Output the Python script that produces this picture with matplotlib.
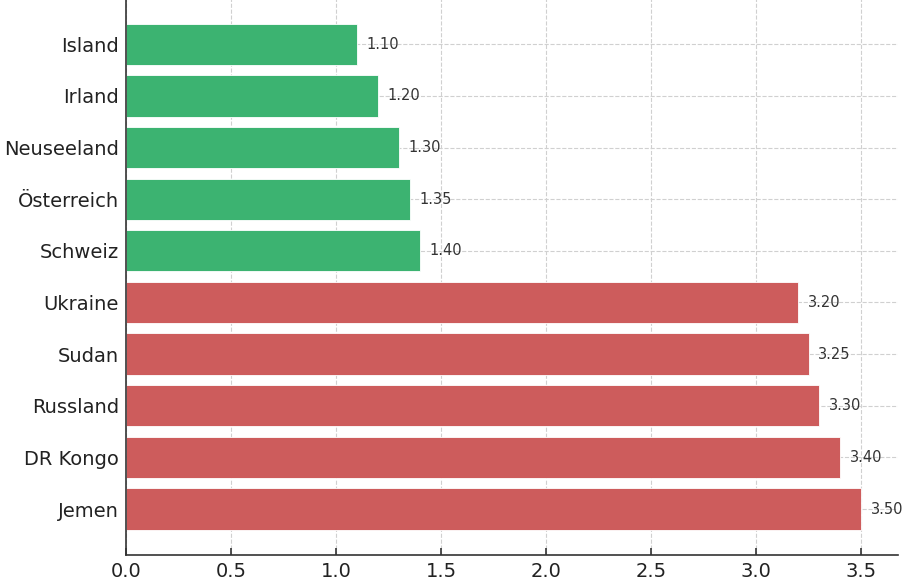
import matplotlib
matplotlib.use("Agg")
import matplotlib.pyplot as plt

plt.rcParams["font.family"] = ["DejaVu Sans"]

countries = ["Island", "Irland", "Neuseeland", "Österreich", "Schweiz",
             "Ukraine", "Sudan", "Russland", "DR Kongo", "Jemen"]
values = [1.10, 1.20, 1.30, 1.35, 1.40, 3.20, 3.25, 3.30, 3.40, 3.50]
groups = ["top"] * 5 + ["bottom"] * 5
group_colors = {"top": "#3CB371", "bottom": "#CD5C5C"}

fig = plt.figure(figsize=(9.08, 5.83), dpi=100)
ax = fig.add_axes([0.1388, 0.048, 0.989 - 0.1388, 1.003 - 0.048])

colors = [group_colors[g] for g in groups]
bars = ax.barh(countries, values, color=colors, height=0.8,
               edgecolor="white", linewidth=0.6, zorder=2)
ax.invert_yaxis()

for b, v in zip(bars, values):
    ax.text(v + 0.045, b.get_y() + b.get_height() / 2, f"{v:.2f}",
            va="center", ha="left", fontsize=10.5, color="#333333", zorder=3)

ax.grid(True, linestyle="--", color="#d0d0d0", linewidth=0.8, zorder=0)
ax.set_axisbelow(True)
for s in ["top", "right"]:
    ax.spines[s].set_visible(False)
for s in ["left", "bottom"]:
    ax.spines[s].set_color("#333333")
    ax.spines[s].set_linewidth(1.2)
ax.tick_params(axis="both", direction="in", colors="#333333",
               labelsize=14, length=5, width=1.2, labelcolor="#222222", pad=5)

fig.savefig("out.png", dpi=100)
